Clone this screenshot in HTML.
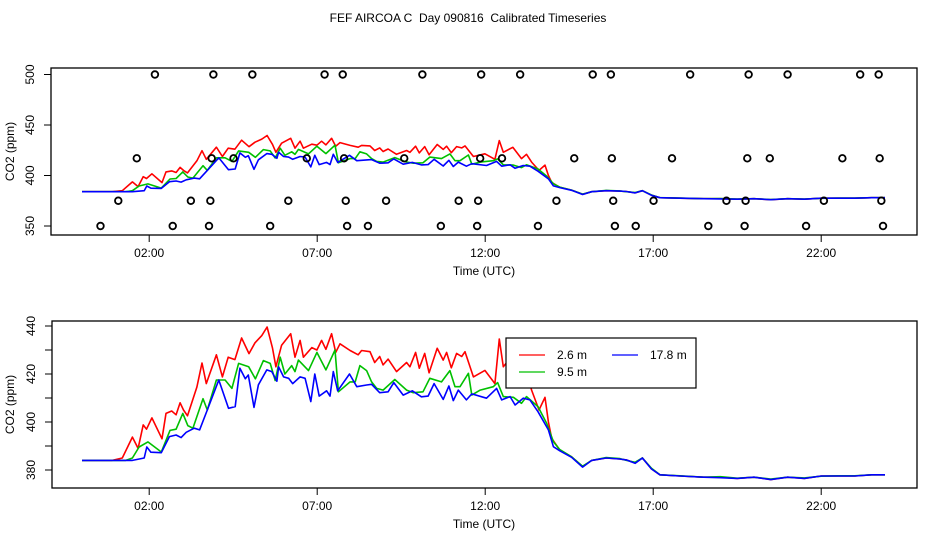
<!DOCTYPE html>
<html><head><meta charset="utf-8"><style>
body{margin:0;background:#fff;}
svg text{font-family:"Liberation Sans",sans-serif;font-size:12px;fill:#000;}
</style></head><body>
<svg id="chart" width="936" height="540" viewBox="0 0 936 540" xmlns="http://www.w3.org/2000/svg">
<text x="468" y="22" text-anchor="middle" style="white-space:pre">FEF AIRCOA C  Day 090816  Calibrated Timeseries</text>
<g id="topPanel"></g>
<g id="botPanel"></g>
</svg>
<script>
// time in hours (UTC), CO2 in ppm
const redT=[0,0.9,1.2,1.5,1.67,1.82,1.92,2.08,2.38,2.5,2.67,2.8,2.92,3.02,3.14,3.42,3.57,3.7,4.0,4.18,4.35,4.55,4.75,4.97,5.15,5.35,5.51,5.67,5.77,5.94,6.21,6.34,6.49,6.59,6.84,6.99,7.13,7.26,7.43,7.55,7.68,7.98,8.22,8.32,8.57,8.71,8.86,8.96,9.11,9.36,9.66,9.76,9.93,10.04,10.2,10.33,10.57,10.75,10.85,10.99,11.15,11.3,11.4,11.65,11.99,12.29,12.42,12.54,12.82,13.08,13.23,13.38,13.6,13.78,13.88,13.98,14.22,14.57,14.9,15.17,15.6,16.0,16.2,16.46,16.68,16.95,17.2,17.8,18.5,19.0,19.5,20.0,20.5,21.0,21.5,22.0,22.5,23.0,23.5,23.9];
const redV=[384,384,385,393.7,389,398.8,397,401.7,393,403.6,404.6,403,408,405,402.6,414.6,424.6,416,428,418.8,427,426,435,428.5,433,436,439.6,430.8,423,432,436.8,427,434,427,431,430,434,430.3,436.8,429,432.6,429.8,428,429.8,429.3,424.8,427.3,423.8,426.2,421,424.8,423,429,422.4,428.6,420.5,430.7,425.8,429,422.6,428.6,427.3,429.3,418.8,421.5,416,434.6,423,427.9,416.7,421,413.3,405,410.3,400,393.2,388.3,385.5,381.4,384,385,384.6,384.2,382.9,385,380.5,378,377.5,377,377,376.5,377,376,377,376.5,377.5,377.5,377.5,378,378];
const greenT=[0,1.3,1.5,1.7,1.96,2.36,2.62,2.8,3.0,3.15,3.3,3.6,3.73,4.0,4.26,4.46,4.66,4.96,5.16,5.4,5.6,5.75,5.9,6.04,6.24,6.34,6.44,6.74,6.99,7.26,7.53,7.63,7.98,8.13,8.27,8.47,8.62,8.77,8.96,9.31,9.66,9.86,10.15,10.35,10.7,10.95,11.1,11.25,11.5,11.6,11.85,12.24,12.37,12.54,12.84,13.08,13.23,13.57,13.83,14.03,14.22,14.57,14.9,15.17,15.6,16.0,16.2,16.46,16.68,16.95,17.2,17.8,18.5,19.0,19.5,20.0,20.5,21.0,21.5,22.0,22.5,23.0,23.5,23.9];
const greenV=[384,384,385,389.6,391.7,387.5,396.5,397,403.6,398.5,397.4,409.7,405,417.5,417.5,414,424.4,423,418,425.6,424.4,417.3,427,420,423.5,421,425.8,421.4,429,421.7,430,412.6,416.7,416.7,423.5,421.4,416.7,414,413.3,417.7,413.3,412.2,412.6,418.2,416.7,421.4,414.7,414.7,420.3,411.2,413.3,414.7,416.4,410.6,410.3,407.8,410.6,406.4,399.4,391.8,388.5,385.5,381.6,384,385.2,384.8,384,383.2,385,380.7,378,377.6,377,377.2,376.6,377,376.2,377,376.7,377.4,377.6,377.6,378,378];
const blueT=[0,1.5,1.85,1.93,2.05,2.36,2.6,2.8,2.95,3.1,3.34,3.5,3.73,4.07,4.36,4.56,4.7,4.86,4.95,5.12,5.25,5.5,5.65,5.8,5.85,6.0,6.15,6.27,6.49,6.64,6.81,6.93,7.06,7.28,7.38,7.48,7.61,7.96,8.18,8.47,8.62,8.86,9.11,9.28,9.56,9.83,10.1,10.3,10.48,10.75,10.92,11.05,11.2,11.44,11.6,12.04,12.34,12.49,12.74,12.89,13.13,13.33,13.57,13.88,14.03,14.22,14.57,14.9,15.17,15.6,16.0,16.2,16.46,16.68,16.95,17.2,17.8,18.5,19.0,19.5,20.0,20.5,21.0,21.5,22.0,22.5,23.0,23.5,23.9];
const blueV=[384,384,385,389.6,387.4,387.2,393.9,394.6,393.5,395.7,397.4,396.7,405,417.5,405.7,406.4,422.4,418,419.6,406.1,415.5,421.7,421,417,423,418.8,418.2,416,418.8,418.2,408.5,420,410.8,413,410.8,421,413,420,414.7,415.4,415.7,412.2,412.6,416.4,411.2,413,410.5,410.8,416,409.4,415,408.9,413.3,409.2,411.7,409.9,414,409.2,410.6,407.1,409.9,409.2,404.3,396.7,389.7,388,385.3,381.2,384,385,384.6,384.2,382.8,385,380.4,378,377.5,377,376.8,376.5,377,376,377,376.5,377.5,377.5,377.5,378,378];
const ptsT=[2.17,3.91,5.07,7.22,7.76,10.13,11.88,13.04,15.2,15.74,18.1,19.84,21.0,23.16,23.71,
1.63,3.86,4.51,6.69,7.8,9.59,11.85,12.5,14.65,15.77,17.56,19.8,20.47,22.63,23.74,
1.08,3.24,3.82,6.14,7.85,9.05,11.21,11.79,14.12,15.81,17.01,19.18,19.75,22.08,23.79,
0.55,2.7,3.78,5.6,7.89,8.51,10.68,11.76,13.57,15.86,16.48,18.64,19.72,21.55,23.84];
const ptsV=[500,500,500,500,500,500,500,500,500,500,500,500,500,500,500,
417,417,417,417,417,417,417,417,417,417,417,417,417,417,417,
375,375,375,375,375,375,375,375,375,375,375,375,375,375,375,
350,350,350,350,350,350,350,350,350,350,350,350,350,350,350];
const xTicks=[2,7,12,17,22];
const xTickLabels=["02:00","07:00","12:00","17:00","22:00"];
const topYTicks=[350,400,450,500];
const botYTicks=[380,390,400,410,420,430,440];
const botYLabels=[380,400,420,440];

const NS="http://www.w3.org/2000/svg";
function mk(tag,attrs,parent,txt){const e=document.createElementNS(NS,tag);for(const k in attrs)e.setAttribute(k,attrs[k]);if(txt!==undefined)e.textContent=txt;parent.appendChild(e);return e;}
const xs=t=>82+t*33.6;

function panel(g,box,ys,yticks,ylabels,name){
  const r=mk('rect',{x:box.x0,y:box.y0,width:box.x1-box.x0,height:box.y1-box.y0,fill:'none',stroke:'#000','stroke-width':1.3},g);
  
  
  xTicks.forEach((t,i)=>{
    const x=xs(t);
    const l=mk('line',{x1:x,x2:x,y1:box.y1,y2:box.y1+7,stroke:'#000'},g);
    
    
    const tx=mk('text',{x:x,y:box.y1+22,'text-anchor':'middle'},g,xTickLabels[i]);
    
    
  });
  yticks.forEach(v=>{
    const y=ys(v);
    const l=mk('line',{x1:box.x0-7,x2:box.x0,y1:y,y2:y,stroke:'#000'},g);
    
    
  });
  ylabels.forEach(v=>{
    const y=ys(v);
    const tx=mk('text',{x:0,y:0,'text-anchor':'middle',transform:`translate(${box.x0-17},${y}) rotate(-90)`},g,String(v));
    
    
  });
  const xt=mk('text',{x:484,y:box.y1+40,'text-anchor':'middle'},g,'Time (UTC)');
  
  
  const yt=mk('text',{x:0,y:0,'text-anchor':'middle',transform:`translate(14,${(box.y0+box.y1)/2}) rotate(-90)`},g,'CO2 (ppm)');
  
  
}
function series(g,T,V,ys,color,name){
  const d=T.map((t,i)=>(i?'L':'M')+xs(t).toFixed(1)+' '+ys(V[i]).toFixed(1)).join(' ');
  const p=mk('path',{d:d,fill:'none',stroke:color,'stroke-width':1.6,'stroke-linejoin':'round'},g);
  
  
}
const topG=document.getElementById('topPanel');
const tBox={x0:51,x1:917,y0:68,y1:235};
const ysTop=v=>175.5-(v-400)*1.01;
panel(topG,tBox,ysTop,topYTicks,topYTicks,'top');
series(topG,redT,redV,ysTop,'#ff0000','top-series-2-6m');
series(topG,greenT,greenV,ysTop,'#00c000','top-series-9-5m');
series(topG,blueT,blueV,ysTop,'#0000ff','top-series-17-8m');
ptsT.forEach((t,i)=>{
  const c=mk('circle',{cx:xs(t),cy:ysTop(ptsV[i]),r:3.3,fill:'none',stroke:'#000','stroke-width':1.8},topG);
  
  
});
const botG=document.getElementById('botPanel');
const bBox={x0:52,x1:917,y0:321,y1:488};
const ysBot=v=>470-(v-380)*2.4;
panel(botG,bBox,ysBot,botYTicks,botYLabels,'bottom');
series(botG,redT,redV,ysBot,'#ff0000','bottom-series-2-6m');
series(botG,greenT,greenV,ysBot,'#00c000','bottom-series-9-5m');
series(botG,blueT,blueV,ysBot,'#0000ff','bottom-series-17-8m');
const lg=mk('g',{},botG);


mk('rect',{x:506,y:338,width:190,height:50,fill:'#fff',stroke:'#000','stroke-width':1.2},lg);
[['2.6 m','#ff0000',519,355,557],['17.8 m','#0000ff',612,355,650],['9.5 m','#00c000',519,372,557]].forEach(e=>{
  const it=mk('g',{},lg);
  
  
  mk('line',{x1:e[2],x2:e[2]+26,y1:e[3],y2:e[3],stroke:e[1],'stroke-width':1.3},it);
  mk('text',{x:e[4],y:e[3]+4},it,e[0]);
});
</script>
</body></html>
